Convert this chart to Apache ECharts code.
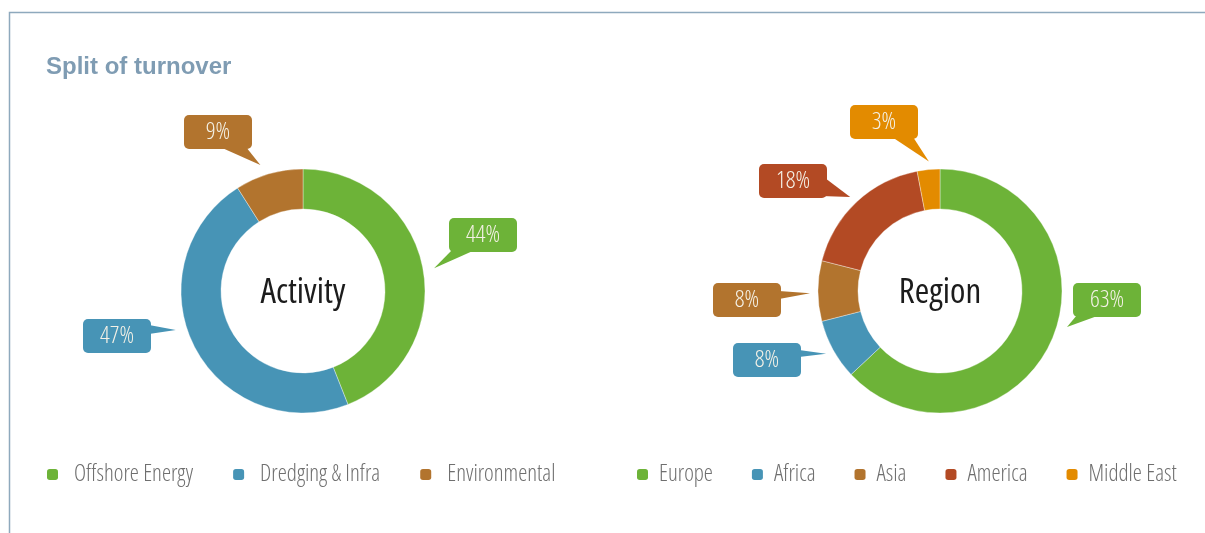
<!DOCTYPE html>
<html>
<head>
<meta charset="utf-8">
<title>Split of turnover</title>
<script src="https://cdn.jsdelivr.net/npm/echarts@6/dist/echarts.min.js"></script>
<style>
  html, body { margin: 0; padding: 0; background: #ffffff; }
  #chart { width: 1205px; height: 533px; }
</style>
</head>
<body>
<div id="chart"></div>
<script>
// Turnover split by activity
const activityNames = ['Offshore Energy', 'Dredging & Infra', 'Environmental'];
const activityValues = [44, 47, 9];
const activityColors = ['#6db338', '#4794b6', '#b2742e'];

// Turnover split by region
const regionNames = ['Europe', 'Africa', 'Asia', 'America', 'Middle East'];
const regionValues = [63, 8, 8, 18, 3];
const regionColors = ['#6db338', '#4794b6', '#b2742e', '#b34a24', '#e38b00'];

// Donut geometry
const RING_INNER = 82;
const RING_OUTER = 122;
const activityCenter = [303, 291];
const regionCenter = [940, 291];

// Callout bubbles: offset of bubble centre from the donut centre,
// the two base points of the pointer (relative to the bubble centre),
// and a small angular nudge / gap for where the pointer ends.
const BUBBLE_W = 68, BUBBLE_H = 34;
const activityCallouts = [
  { dx: 180, dy: -56, base: [[-31, 15], [-8, 15]], nudge: 1, gap: 11 },
  { dx: -186, dy: 45, base: [[32, -11], [32, -2]], nudge: 10, gap: 11 },
  { dx: -85, dy: -159, base: [[2, 15], [28, 15]], nudge: -2.5, gap: 11 }
];
const regionCallouts = [
  { dx: 167, dy: 9, base: [[-30, 15], [-7, 15]], nudge: -7.6, gap: 10 },
  { dx: -173, dy: 69, base: [[32, -10], [32, -3]], nudge: 0, gap: 8 },
  { dx: -193, dy: 9, base: [[32, -9], [32, -1]], nudge: -1, gap: 8 },
  { dx: -147, dy: -110, base: [[32, -3], [28, 15]], nudge: -0.5, gap: 8 },
  { dx: -56, dy: -169, base: [[8, 15], [29, 15]], nudge: 0.5, gap: 8 }
];

// Condensed humanist face (Open Sans width axis)
const FAMILY = "'Open Sans', 'DejaVu Sans Condensed', sans-serif";
const STRETCH = 'condensed';

function pieData(names, values, colors) {
  return names.map((n, i) => ({ name: n, value: values[i], itemStyle: { color: colors[i] } }));
}

// Pointer triangles, computed from each slice's mid angle
function pointerShapes(values, colors, center, callouts) {
  const total = values.reduce((a, b) => a + b, 0);
  let acc = 0;
  return values.map((v, i) => {
    const mid = (acc + v / 2) / total * 360 + callouts[i].nudge;
    acc += v;
    const rad = mid * Math.PI / 180;
    const dist = RING_OUTER + callouts[i].gap;
    const tip = [center[0] + dist * Math.sin(rad), center[1] - dist * Math.cos(rad)];
    const bx = center[0] + callouts[i].dx, by = center[1] + callouts[i].dy;
    const pts = callouts[i].base.map(p => [bx + p[0], by + p[1]]);
    return {
      type: 'polygon',
      silent: true,
      z: 1,
      shape: { points: [pts[0], pts[1], tip] },
      style: { fill: colors[i] }
    };
  });
}

function donut(name, names, values, colors, center, callouts) {
  return {
    type: 'pie',
    name: name,
    center: center,
    radius: [RING_INNER, RING_OUTER],
    startAngle: 90,
    clockwise: true,
    avoidLabelOverlap: false,
    animation: false,
    itemStyle: { borderColor: 'rgba(255,255,255,0.6)', borderWidth: 0.6 },
    label: {
      show: true,
      position: 'outside',
      formatter: '{c}%',
      color: '#f4f1e6',
      fontFamily: FAMILY,
      fontStyle: STRETCH,
      fontWeight: 300,
      fontSize: 24,
      width: BUBBLE_W,
      height: BUBBLE_H,
      lineHeight: BUBBLE_H,
      align: 'center',
      verticalAlign: 'middle',
      backgroundColor: 'inherit',
      borderRadius: 5,
      padding: 0
    },
    labelLine: { show: false },
    labelLayout: function (p) {
      const c = callouts[p.dataIndex];
      return {
        x: center[0] + c.dx,
        y: center[1] + c.dy,
        align: 'center',
        verticalAlign: 'middle'
      };
    },
    emphasis: { disabled: true },
    data: pieData(names, values, colors)
  };
}

const chart = echarts.init(document.getElementById('chart'), null, { renderer: 'canvas' });

const legendText = { color: '#6f6f6f', fontFamily: FAMILY, fontStyle: STRETCH, fontWeight: 300, fontSize: 23 };

function legendFor(names, left, gap, textGap) {
  return {
    data: names,
    left: left,
    top: 463,
    width: 580,
    padding: 0,
    icon: 'roundRect',
    itemWidth: 11,
    itemHeight: 11,
    itemGap: gap,
    itemStyle: { borderWidth: 0 },
    selectedMode: false,
    textStyle: Object.assign({ padding: [0, 0, 0, textGap] }, legendText)
  };
}

chart.setOption({
  animation: false,
  title: {
    text: 'Split of turnover',
    left: 46,
    top: 55,
    padding: 0,
    textStyle: { color: '#7f9cb3', fontFamily: "'Liberation Sans', Arial, sans-serif", fontWeight: 'bold', fontSize: 24 }
  },
  legend: [
    legendFor(activityNames, 47, 40, 11),
    legendFor(regionNames, 637, 39, 6)
  ],
  graphic: [
    {
      type: 'polyline',
      silent: true,
      shape: { points: [[9.5, 533], [9.5, 12.5], [1205, 12.5]] },
      style: { stroke: '#8ea9bd', lineWidth: 1.5, fill: null }
    },
    {
      type: 'text',
      silent: true,
      x: activityCenter[0],
      y: activityCenter[1] + 2,
      style: { text: 'Activity', fill: '#1c1c1c', font: STRETCH + " 35px " + FAMILY, textAlign: 'center', textVerticalAlign: 'middle' }
    },
    {
      type: 'text',
      silent: true,
      x: regionCenter[0],
      y: regionCenter[1] + 2,
      style: { text: 'Region', fill: '#1c1c1c', font: STRETCH + " 35px " + FAMILY, textAlign: 'center', textVerticalAlign: 'middle' }
    }
  ].concat(
    pointerShapes(activityValues, activityColors, activityCenter, activityCallouts),
    pointerShapes(regionValues, regionColors, regionCenter, regionCallouts)
  ),
  series: [
    donut('Activity', activityNames, activityValues, activityColors, activityCenter, activityCallouts),
    donut('Region', regionNames, regionValues, regionColors, regionCenter, regionCallouts)
  ]
});
</script>
</body>
</html>
